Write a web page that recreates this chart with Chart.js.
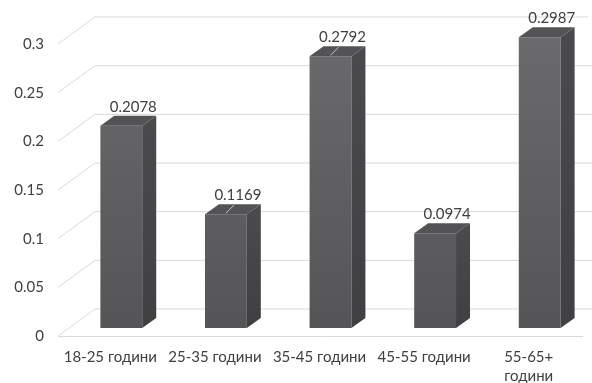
<!DOCTYPE html>
<html>
<head>
<meta charset="utf-8">
<script src="https://cdn.jsdelivr.net/npm/chart.js@4"></script>
<style>
  html, body { margin: 0; padding: 0; background: #ffffff; }
  #wrap { width: 592px; height: 383px; }
</style>
</head>
<body>
<div id="wrap"><canvas id="chart" width="592" height="383"></canvas></div>
<script>
// Age groups and their shares
const categories = ['18-25 години', '25-35 години', '35-45 години', '45-55 години', ['55-65+', 'години']];
const shares = [0.2078, 0.1169, 0.2792, 0.0974, 0.2987];
const yTicks = [0, 0.05, 0.1, 0.15, 0.2, 0.25, 0.3];

// Bars whose value label is connected with a short leader line
const withLeader = [false, true, true, false, false];

const FONT = 'Lato, "Open Sans", sans-serif';
const TEXT = '#404040';
const GRID = '#d9d9d9';

// Projection of the depth axis
const DEPTH = { dx: 14, dy: -10 };        // bar depth
const WALL = { front: 8, back: -19, fx: -11, bx: 26 };  // floor / back wall offsets

const threeD = {
  id: 'threeD',
  beforeDatasetsDraw(chart) {
    const { ctx, chartArea, scales: { y } } = chart;
    ctx.save();
    ctx.strokeStyle = GRID;
    ctx.lineWidth = 1;
    const fx = chartArea.left + WALL.fx;
    const bx = chartArea.left + WALL.bx;
    yTicks.forEach((v, i) => {
      const p = y.getPixelForValue(v);
      ctx.beginPath();
      ctx.moveTo(fx, p + WALL.front);
      ctx.lineTo(bx, p + WALL.back);
      ctx.lineTo(i === yTicks.length - 1 ? chartArea.right - 4 : chartArea.right, p + WALL.back);
      ctx.stroke();
    });
    // front edge of the floor
    const p0 = y.getPixelForValue(0);
    ctx.beginPath();
    ctx.moveTo(fx, p0 + WALL.front + 0.5);
    ctx.lineTo(chartArea.right - 9, p0 + WALL.front + 0.5);
    ctx.stroke();
    ctx.restore();
  },
  afterDatasetsDraw(chart) {
    const { ctx, scales: { y } } = chart;
    const meta = chart.getDatasetMeta(0);
    const base = y.getPixelForValue(0);
    ctx.save();
    meta.data.forEach((bar, i) => {
      const half = bar.width / 2;
      const l = bar.x - half, r = bar.x + half, t = bar.y;
      // side face
      const sg = ctx.createLinearGradient(0, t, 0, base);
      sg.addColorStop(0, '#4a4a4c');
      sg.addColorStop(1, '#404042');
      ctx.fillStyle = sg;
      ctx.beginPath();
      ctx.moveTo(r, t);
      ctx.lineTo(r + DEPTH.dx, t + DEPTH.dy);
      ctx.lineTo(r + DEPTH.dx, base + DEPTH.dy);
      ctx.lineTo(r, base);
      ctx.closePath();
      ctx.fill();
      // top face
      ctx.fillStyle = '#535355';
      ctx.beginPath();
      ctx.moveTo(l, t);
      ctx.lineTo(l + DEPTH.dx, t + DEPTH.dy);
      ctx.lineTo(r + DEPTH.dx, t + DEPTH.dy);
      ctx.lineTo(r, t);
      ctx.closePath();
      ctx.fill();

      const lx = bar.x + 12, ly = t - 19;
      if (withLeader[i]) {
        ctx.strokeStyle = '#c8c8c8';
        ctx.lineWidth = 1;
        ctx.beginPath();
        ctx.moveTo(bar.x, t - 1);
        ctx.lineTo(bar.x + 8, t - 9);
        ctx.stroke();
      }
      ctx.fillStyle = TEXT;
      ctx.font = '15px ' + FONT;
      ctx.textAlign = 'center';
      ctx.textBaseline = 'middle';
      ctx.fillText(shares[i].toFixed(4), lx, ly);
    });
    ctx.restore();
  }
};

const ctx = document.getElementById('chart').getContext('2d');
new Chart(ctx, {
  type: 'bar',
  data: {
    labels: categories,
    datasets: [{
      data: shares,
      backgroundColor(c) {
        const area = c.chart.chartArea;
        if (!area) return '#5e5e60';
        const g = c.chart.ctx.createLinearGradient(0, area.top, 0, area.bottom);
        g.addColorStop(0, '#6a6a6c');
        g.addColorStop(1, '#555557');
        return g;
      },
      borderWidth: 0,
      categoryPercentage: 1,
      barPercentage: 0.4
    }]
  },
  options: {
    responsive: false,
    animation: false,
    events: [],
    layout: { padding: { top: 36, right: 0, left: 0, bottom: 0 } },
    plugins: { legend: { display: false }, tooltip: { enabled: false } },
    scales: {
      x: {
        grid: { display: false, drawTicks: false },
        border: { display: false },
        ticks: {
          color: TEXT,
          font: { family: FONT, size: 15, lineHeight: 1.3 },
          padding: 19,
          maxRotation: 0,
          autoSkip: false,
          labelOffset: -11
        },
        afterFit(s) { s.height = 55; }
      },
      y: {
        min: 0,
        max: 0.3,
        afterBuildTicks(s) { s.ticks = yTicks.map(v => ({ value: v })); },
        grid: { display: false, drawTicks: false },
        border: { display: false },
        ticks: {
          color: TEXT,
          font: { family: FONT, size: 15 },
          padding: 25,
          labelOffset: 8,
          callback: v => String(v)
        },
        afterFit(s) { s.width = 69; }
      }
    }
  },
  plugins: [threeD]
});
</script>
</body>
</html>
